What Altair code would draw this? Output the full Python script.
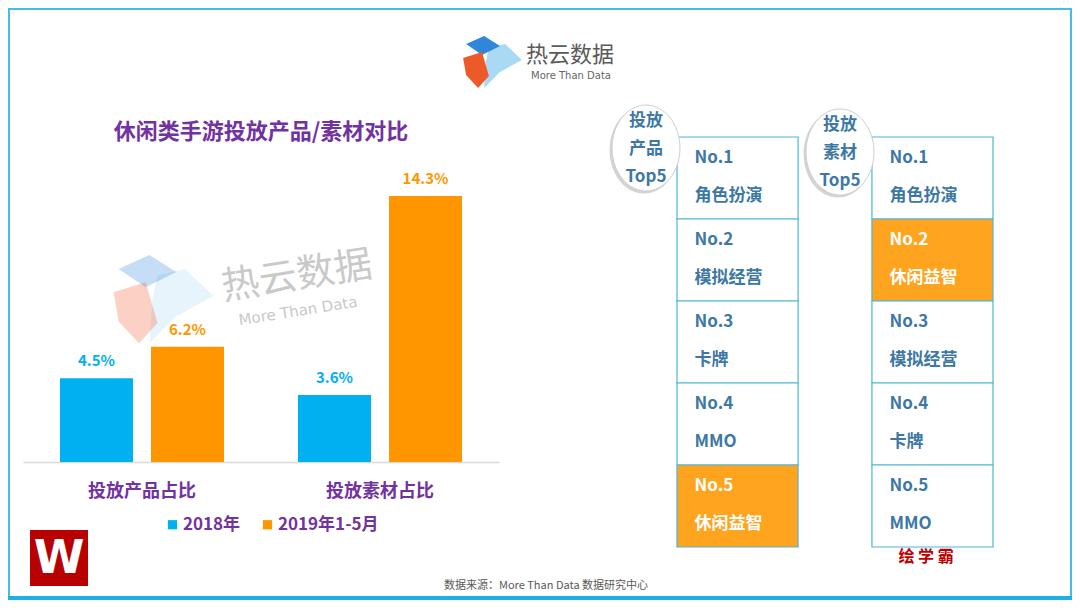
import altair as alt
import pandas as pd

# ---------------- data ----------------
categories = ["投放产品占比", "投放素材占比"]
series = ["2018年", "2019年1-5月"]
values_2018 = [4.5, 3.6]
values_2019 = [6.2, 14.3]

tables = ["投放产品", "投放素材"]
table_badges = ["投放\n产品\nTop5", "投放\n素材\nTop5"]
product_top5 = ["角色扮演", "模拟经营", "卡牌", "MMO", "休闲益智"]
material_top5 = ["角色扮演", "休闲益智", "模拟经营", "卡牌", "MMO"]
highlight_genre = "休闲益智"

title_text = "休闲类手游投放产品/素材对比"
brand_cn = "热云数据"
brand_en = "More Than Data"
source_text = "数据来源：More Than Data 数据研究中心"
signature = "绘 学 霸"

# ---------------- styles ----------------
FONT = "Noto Sans CJK SC"
PURPLE = "#7232A2"
BLUE = "#00B0F0"
ORANGE = "#FF9600"
CELL_ORANGE = "#FFA41E"
CYAN = "#4DB6D6"
STEEL = "#3D78A5"
W, H = 1064, 592

bars_df = pd.DataFrame(
    [{"category": c, "series": series[0], "value": v} for c, v in zip(categories, values_2018)]
    + [{"category": c, "series": series[1], "value": v} for c, v in zip(categories, values_2019)]
)

rows = []
for t, lst in zip(tables, [product_top5, material_top5]):
    for i, name in enumerate(lst):
        rows.append({"table": t, "rank": i + 1, "no": f"No.{i + 1}", "name": name})
table_df = pd.DataFrame(rows)
badge_df = pd.DataFrame({"table": tables, "badge": table_badges})
one = pd.DataFrame({"k": [0]})

# ---------------- bar chart ----------------
x_bar = alt.X(
    "category:N", sort=categories,
    scale=alt.Scale(range=[15, 491], paddingInner=0, paddingOuter=0),
    axis=alt.Axis(title=None, orient="bottom", offset=-(H - 454), labelAngle=0,
                  labelFontSize=18, labelFontWeight="bold", labelColor=PURPLE,
                  labelPadding=20, ticks=False, tickSize=0, domainColor="#DADADA",
                  domainWidth=1.5, grid=False, labelFont=FONT),
)
xoff_bar = alt.XOffset("series:N", sort=series,
                       scale=alt.Scale(paddingInner=0.198, paddingOuter=0.4066))
y_bar = alt.Y("value:Q", scale=alt.Scale(domain=[0, 14.3], range=[454, 188], nice=False),
              axis=None)
color_bar = alt.Color(
    "series:N", sort=series,
    scale=alt.Scale(domain=series, range=[BLUE, ORANGE]),
    legend=alt.Legend(title=None, orient="none", legendX=156, legendY=508,
                      direction="horizontal", symbolType="square", symbolSize=85,
                      labelFontSize=17, labelFontWeight="bold", labelColor=PURPLE,
                      columnPadding=18, labelOffset=2, padding=0, symbolStrokeWidth=0,
                      labelFont=FONT),
)

bars = alt.Chart(bars_df).mark_bar().encode(x=x_bar, xOffset=xoff_bar, y=y_bar, color=color_bar)
bar_labels = alt.Chart(bars_df).transform_calculate(
    label="format(datum.value, '.1f') + '%'"
).mark_text(dy=-17, fontSize=15, fontWeight="bold", baseline="middle").encode(
    x=x_bar, xOffset=xoff_bar, y=y_bar, text="label:N",
    color=alt.Color("series:N", sort=series, scale=alt.Scale(domain=series, range=[BLUE, ORANGE]), legend=None),
)
bar_chart = alt.layer(bars, bar_labels)

# ---------------- watermark ----------------
P_BLUE = "M-0.83,-0.63 L-0.23,-0.9 L0.3,-0.57 L-0.3,-0.27 Z"
P_ORANGE = "M-0.93,-0.17 L-0.3,-0.37 L-0.07,0.43 L-0.43,0.83 L-0.83,0.4 Z"
P_LIGHT = "M-0.07,-0.5 L0.47,-0.63 L1.03,-0.1 L0.3,0.3 L-0.23,0.83 L-0.17,-0.03 Z"


def icon(cx, cy, size, opacity):
    parts = []
    for path, col in [(P_LIGHT, "#A9D9F5"), (P_BLUE, "#2F86DA"), (P_ORANGE, "#EC5A2A")]:
        parts.append(
            alt.Chart(one).mark_point(shape=path, size=size, filled=True, color=col,
                                      opacity=opacity, strokeWidth=0)
            .encode(x=alt.value(cx), y=alt.value(cy))
        )
    return alt.layer(*parts)


wm_icon = icon(153, 293, 10400, 0.28)
wm_cn = alt.Chart(pd.DataFrame({"t": [brand_cn]})).mark_text(
    fontSize=38, color="#C9C9C9", angle=351, font=FONT, baseline="middle"
).encode(x=alt.value(289), y=alt.value(269), text="t:N")
wm_en = alt.Chart(pd.DataFrame({"t": [brand_en]})).mark_text(
    fontSize=15, color="#C9C9C9", angle=351, font="DejaVu Sans", baseline="middle"
).encode(x=alt.value(290), y=alt.value(303), text="t:N")

# ---------------- top logo ----------------
top_icon = icon(483, 55, 3600, 1.0)
top_cn = alt.Chart(pd.DataFrame({"t": [brand_cn]})).mark_text(
    fontSize=22, color="#5A5A5A", font=FONT, baseline="middle"
).encode(x=alt.value(562), y=alt.value(47), text="t:N")
top_en = alt.Chart(pd.DataFrame({"t": [brand_en]})).mark_text(
    fontSize=10, color="#666666", font="DejaVu Sans", baseline="middle"
).encode(x=alt.value(563), y=alt.value(68), text="t:N")

# ---------------- title ----------------
title = alt.Chart(pd.DataFrame({"t": [title_text]})).mark_text(
    fontSize=22, fontWeight="bold", color=PURPLE, font=FONT, baseline="middle"
).encode(x=alt.value(253), y=alt.value(124), text="t:N")

# ---------------- tables ----------------
x_tab = alt.X("table:N", sort=tables,
              scale=alt.Scale(range=[669, 985], paddingInner=0.379, paddingOuter=0), axis=None)
y_tab = alt.Y("rank:O", scale=alt.Scale(range=[129, 539], paddingInner=0, paddingOuter=0), axis=None)
is_hl = f"datum.name === '{highlight_genre}'"
cells = alt.Chart(table_df).mark_rect(stroke=CYAN, strokeWidth=1.2).encode(
    x=x_tab, y=y_tab,
    fill=alt.condition(is_hl, alt.value(CELL_ORANGE), alt.value("white")),
)
cell_no = alt.Chart(table_df).mark_text(
    align="left", dx=-43, dy=-20, baseline="middle", fontSize=17, fontWeight="bold", font=FONT
).encode(x=x_tab, y=y_tab, text="no:N",
         color=alt.condition(is_hl, alt.value("white"), alt.value(STEEL)))
cell_name = alt.Chart(table_df).mark_text(
    align="left", dx=-43, dy=18, baseline="middle", fontSize=17, fontWeight="bold", font=FONT
).encode(x=x_tab, y=y_tab, text="name:N",
         color=alt.condition(is_hl, alt.value("white"), alt.value(STEEL)))
table_chart = alt.layer(cells, cell_no, cell_name)

# ---------------- badges ----------------
ELLIPSE = ("M0.79,0 C0.79,0.552 0.436,1 0,1 C-0.436,1 -0.79,0.552 -0.79,0 "
           "C-0.79,-0.552 -0.436,-1 0,-1 C0.436,-1 0.79,-0.552 0.79,0 Z")
badge_shadow = alt.Chart(badge_df).mark_point(
    shape=ELLIPSE, size=7600, filled=True, color="#C4C4C4", opacity=0.75, strokeWidth=0
).encode(
    x=alt.X("table:N", sort=tables, scale=alt.Scale(type="point", range=[636, 830], padding=0), axis=None),
    y=alt.Y("table:N", sort=tables, scale=alt.Scale(type="point", range=[142, 146], padding=0), axis=None),
)
x_badge = alt.X("table:N", sort=tables, scale=alt.Scale(type="point", range=[638, 832], padding=0), axis=None)
y_badge = alt.Y("table:N", sort=tables, scale=alt.Scale(type="point", range=[140, 144], padding=0), axis=None)
badge_fill = alt.Chart(badge_df).mark_point(
    shape=ELLIPSE, size=7396, filled=True, fill="white", stroke="#CFCFCF",
    strokeWidth=1, opacity=1
).encode(x=x_badge, y=y_badge)
badge_text = alt.Chart(badge_df).mark_text(
    lineBreak="\n", lineHeight=28, fontSize=17, fontWeight="bold", color=STEEL,
    baseline="middle", font=FONT, dy=-27
).encode(x=x_badge, y=y_badge, text="badge:N")
badge_chart = alt.layer(badge_fill, badge_text)

# ---------------- footer ----------------
sig = alt.Chart(pd.DataFrame({"t": [signature]})).mark_text(
    fontSize=16, fontWeight="bold", color="#C00000", font=FONT, baseline="middle"
).encode(x=alt.value(918), y=alt.value(549), text="t:N")
source = alt.Chart(pd.DataFrame({"t": [source_text]})).mark_text(
    fontSize=11, color="#595959", font=FONT, baseline="middle"
).encode(x=alt.value(538), y=alt.value(578), text="t:N")
w_box = alt.Chart(one).mark_rect(color="#B80000").encode(
    x=alt.value(22), x2=alt.value(80), y=alt.value(522), y2=alt.value(578))
w_letter = alt.Chart(pd.DataFrame({"t": ["W"]})).mark_text(
    fontSize=46, fontWeight="bold", color="white", font="DejaVu Sans", baseline="middle"
).encode(x=alt.value(51), y=alt.value(551), text="t:N")
frame = alt.Chart(one).mark_rect(filled=False, stroke="#40BDE8", strokeWidth=2).encode(
    x=alt.value(1), x2=alt.value(W - 1), y=alt.value(1), y2=alt.value(H - 1))
bottom_line = alt.Chart(one).mark_rule(color="#1BB1E4", strokeWidth=4).encode(
    x=alt.value(0), x2=alt.value(W), y=alt.value(H - 2))

chart = alt.layer(
    wm_icon, wm_cn, wm_en,
    bar_chart,
    top_icon, top_cn, top_en, title,
    table_chart, badge_shadow, badge_chart,
    sig, source, w_box, w_letter, frame, bottom_line,
).resolve_scale(
    x="independent", y="independent", color="independent", fill="independent"
).properties(
    width=W, height=H, padding=0, autosize=alt.AutoSizeParams(type="none"),
    background="white",
).configure_view(strokeWidth=0).configure(font=FONT)

chart.save("out.html", embed_options={"renderer": "svg", "actions": False})
